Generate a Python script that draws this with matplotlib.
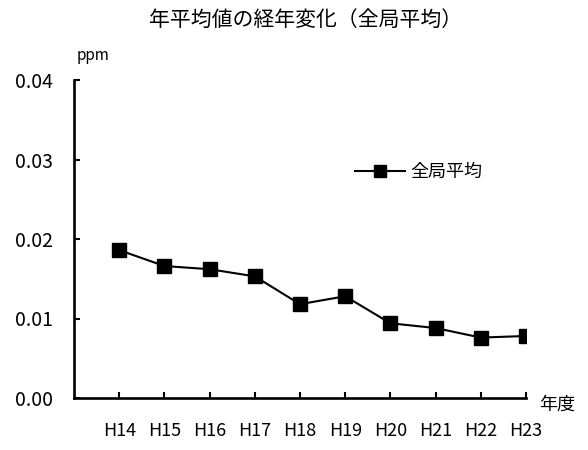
#!/usr/bin/env python3
"""
Annual mean trend (all-station average), ppm by fiscal year
"""

import matplotlib
matplotlib.use('Agg')
import matplotlib.pyplot as plt
from matplotlib.ticker import FormatStrFormatter

plt.rcParams['font.family'] = ['Noto Sans CJK JP', 'DejaVu Sans']

# data
years = ['H14', 'H15', 'H16', 'H17', 'H18', 'H19', 'H20', 'H21', 'H22', 'H23']
avg_ppm = [0.0186, 0.0166, 0.0162, 0.0153, 0.0118, 0.0128, 0.0094, 0.0088, 0.0076, 0.0078]
y_ticks = [0.00, 0.01, 0.02, 0.03, 0.04]

fig = plt.figure(figsize=(5.88, 4.5), dpi=100)
ax = fig.add_axes([74 / 588, 1 - 398 / 450, 452 / 588, 318 / 450])

x = list(range(len(years)))
ax.plot(x, avg_ppm, color='black', linewidth=1.5, marker='s',
        markersize=10, label='全局平均')

ax.set_xlim(-1, len(years) - 1)
ax.set_ylim(0, 0.04)
ax.set_xticks(x)
ax.set_xticklabels(years)
ax.set_yticks(y_ticks)
ax.yaxis.set_major_formatter(FormatStrFormatter('%.2f'))

for side in ['top', 'right']:
    ax.spines[side].set_visible(False)
for side in ['left', 'bottom']:
    ax.spines[side].set_linewidth(1.9)

ax.tick_params(axis='y', direction='in', length=4, width=1.5,
               labelsize=14, pad=15)
ax.tick_params(axis='x', direction='in', length=4, width=1.5,
               labelsize=13, pad=17)

fig.text(306 / 588, 1 - 20 / 450, '年平均値の経年変化（全局平均）',
         ha='center', va='center', fontsize=15)
fig.text(93 / 588, 1 - 55 / 450, 'ppm', ha='center', va='center', fontsize=11)
fig.text(557 / 588, 1 - 405 / 450, '年度', ha='center', va='center', fontsize=13)

ax.legend(loc='center left', bbox_to_anchor=(0.585, 0.711), frameon=False,
          handlelength=2.8, handletextpad=0.3, markerscale=0.8, fontsize=13)

fig.savefig('out.png', dpi=100)
